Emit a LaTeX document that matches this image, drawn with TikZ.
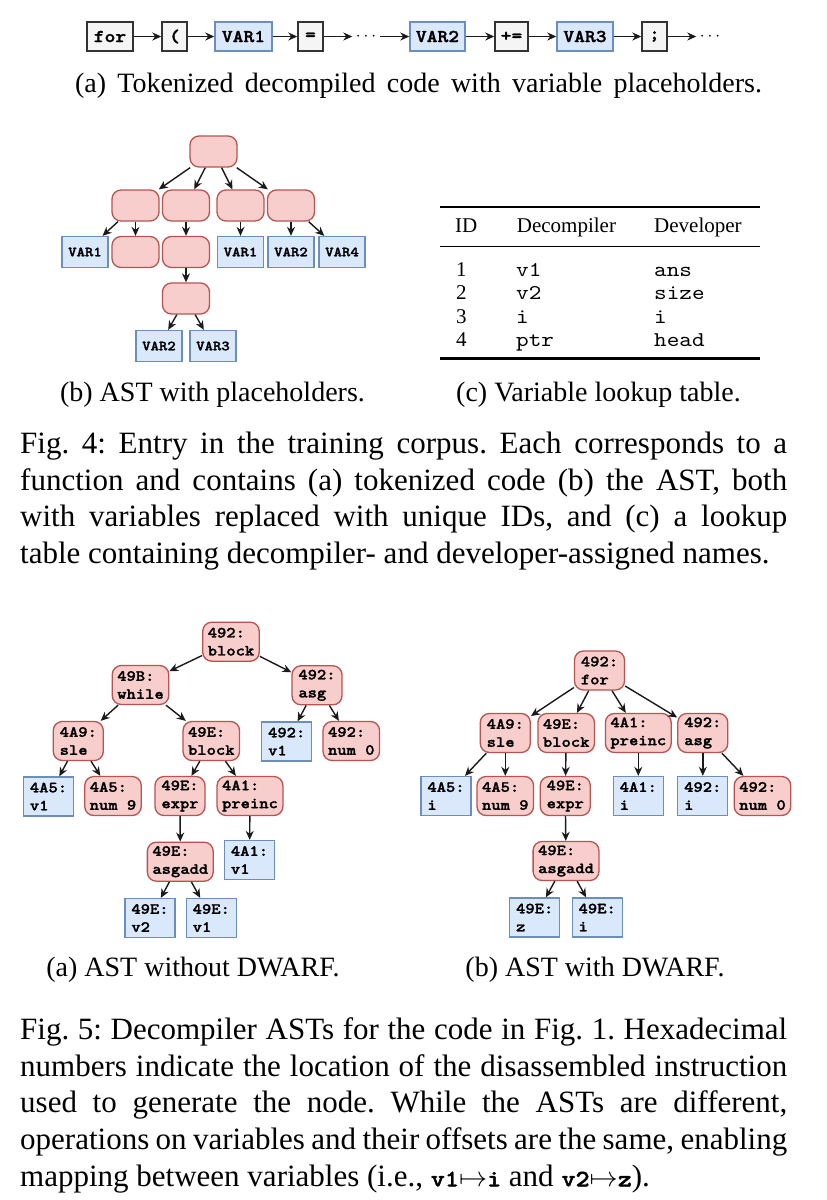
\documentclass[tikz,border=0pt]{standalone}
\usepackage{graphicx}
\usepackage{fontspec}
\setmainfont{Liberation Serif}
\setmonofont{lmmono10-regular}[Extension=.otf, BoldFont=lmmonolt10-bold, FakeStretch=1.143, BoldFeatures={FakeBold=1.6}]
\usetikzlibrary{arrows.meta}
\definecolor{redfill}{HTML}{F8CECC}
\definecolor{redline}{HTML}{B85450}
\definecolor{bluefill}{HTML}{DAE8FC}
\definecolor{blueline}{HTML}{6C8EBF}
\definecolor{grayfill}{HTML}{F5F5F5}
\definecolor{grayline}{HTML}{333333}
\definecolor{arrowc}{HTML}{1A1A1A}
\tikzset{
 tok/.style={draw=grayline, fill=grayfill, line width=1.4pt, minimum height=29pt, inner sep=0pt, font=\fontsize{18}{20}\selectfont\ttfamily\bfseries},
 tokv/.style={tok, draw=blueline, fill=bluefill},
 dotnode/.style={inner sep=0pt, minimum width=27pt, minimum height=20pt, font=\fontsize{18}{20}\selectfont},
 arr/.style={-{Stealth[length=9pt,width=8pt]}, line width=1.4pt, draw=arrowc},
 rn/.style={draw=redline, fill=redfill, rounded corners=9pt, line width=1.3pt, minimum width=47pt, minimum height=31pt, inner sep=0pt},
 bn/.style={draw=blueline, fill=bluefill, line width=1.3pt, minimum width=46pt, minimum height=31pt, inner sep=0pt, font=\fontsize{14}{16}\selectfont\ttfamily\bfseries},
 rt/.style={draw=redline, fill=redfill, rounded corners=9pt, line width=1.3pt, minimum width=50pt, minimum height=39pt, inner xsep=5pt, inner ysep=2pt, align=left, font=\fontsize{15.5}{18}\selectfont\ttfamily\bfseries},
 bt/.style={rt, draw=blueline, fill=bluefill, sharp corners},
 fcap/.style={inner sep=0pt, anchor=base west, font=\fontsize{31}{36.7}\selectfont\frenchspacing},
 subcap/.style={inner sep=0pt, anchor=base, font=\fontsize{28}{33}\selectfont\frenchspacing},
 tabtxt/.style={inner sep=0pt, anchor=base west, font=\fontsize{21}{24}\selectfont},
 tabtt/.style={inner sep=0pt, anchor=base west, font=\fontsize{21}{24}\selectfont\ttfamily},
}
\newcommand{\capcode}[1]{{\fontsize{23.5}{24}\selectfont\ttfamily\bfseries #1}}
\newcommand{\mapsarrow}{\scalebox{1.13}{$\mapsto$}}
\begin{document}
\begin{tikzpicture}[x=1pt,y=-1pt]
\useasboundingbox (0,0) rectangle (827,1200);
\fill[white] (0,0) rectangle (827,1200);

% ---------- token row ----------
\node[tok, minimum width=46pt] (t1) at (110,36.5) {for};
\node[tok, minimum width=25pt] (t2) at (174.5,36.5) {(};
\node[tokv, minimum width=57pt] (t3) at (243.5,36.5) {VAR1};
\node[tok, minimum width=25pt] (t4) at (310.5,36.5) {=};
\node[dotnode] (t5) at (366,36.5) {$\cdots$};
\node[tokv, minimum width=55pt] (t6) at (437.5,36.5) {VAR2};
\node[tok, minimum width=33pt] (t7) at (511.5,36.5) {+=};
\node[tokv, minimum width=56pt] (t8) at (585,36.5) {VAR3};
\node[tok, minimum width=25pt] (t9) at (654.5,36.5) {;};
\node[dotnode] (t10) at (710,36.5) {$\cdots$};
\draw[arr] (t1) -- (t2);
\draw[arr] (t2) -- (t3);
\draw[arr] (t3) -- (t4);
\draw[arr] (t4) -- (t5);
\draw[arr] (t5) -- (t6);
\draw[arr] (t6) -- (t7);
\draw[arr] (t7) -- (t8);
\draw[arr] (t8) -- (t9);
\draw[arr] (t9) -- (t10);
\node[subcap] (capa) at (418.5,92) {\makebox[687pt][s]{(a) Tokenized decompiled code with variable placeholders.}};

% ---------- Fig 4b AST ----------
\node[rn] (r) at (213.5,151.5) {};
\node[rn] (a) at (135.5,205.5) {};
\node[rn] (b) at (186,205.5) {};
\node[rn] (c) at (240.5,205.5) {};
\node[rn] (d) at (291,205.5) {};
\node[bn] (av) at (85,252) {VAR1};
\node[rn] (ar) at (135.5,252) {};
\node[rn] (br) at (186,252) {};
\node[bn] (cv) at (240.5,252) {VAR1};
\node[bn] (dv2) at (291,252) {VAR2};
\node[bn] (dv4) at (342,252) {VAR4};
\node[rn] (e) at (186,298.5) {};
\node[bn] (ev2) at (159,346) {VAR2};
\node[bn] (ev3) at (213,346) {VAR3};
\foreach \s/\t in {r/a,r/b,r/c,r/d,a/av,a/ar,b/br,br/e,c/cv,d/dv2,d/dv4,e/ev2,e/ev3}
  \draw[arr] (\s) -- (\t);
\node[subcap] (capb) at (212.5,401.7) {(b) AST with placeholders.};

% ---------- table ----------
\coordinate (tl) at (440,206.7); \coordinate (tr) at (760,206.7);
\coordinate (ml) at (440,246.7); \coordinate (mr) at (760,246.7);
\coordinate (bl) at (440,358.3); \coordinate (br2) at (760,358.3);
\draw[line width=2.4pt] (tl) -- (tr);
\draw[line width=1.3pt] (ml) -- (mr);
\draw[line width=2.4pt] (bl) -- (br2);
\node[tabtxt] (h1) at (455,232.3) {ID};
\node[tabtxt] (h2) at (516.7,232.3) {Decompiler};
\node[tabtxt] (h3) at (654,232.3) {Developer};
\node[tabtxt] (n1) at (456,276) {1};
\node[tabtt] (d1) at (516,276) {v1};
\node[tabtt] (v1) at (654,276) {ans};
\node[tabtxt] (n2) at (456,299.5) {2};
\node[tabtt] (d2) at (516,299.5) {v2};
\node[tabtt] (v2) at (654,299.5) {size};
\node[tabtxt] (n3) at (456,323) {3};
\node[tabtt] (d3) at (516,323) {i};
\node[tabtt] (v3) at (654,323) {i};
\node[tabtxt] (n4) at (456,346.5) {4};
\node[tabtt] (d4) at (516,346.5) {ptr};
\node[tabtt] (v4) at (654,346.5) {head};
\node[subcap] (capc) at (598.5,401.7) {(c) Variable lookup table.};

% ---------- Fig 4 caption ----------
\node[fcap] (f4a) at (20,453.3) {\makebox[767pt][s]{Fig. 4: Entry in the training corpus. Each corresponds to a}};
\node[fcap] (f4b) at (20,490) {\makebox[767pt][s]{function and contains (a) tokenized code (b) the AST, both}};
\node[fcap] (f4c) at (20,526.7) {\makebox[767pt][s]{with variables replaced with unique IDs, and (c) a lookup}};
\node[fcap] (f4d) at (20,563.4) {table containing decompiler- and developer-assigned names.};

% ---------- Fig 5a ----------
\node[rt] (p1) at (231,641.7) {492:\\block};
\node[rt] (p2) at (140.5,685) {49B:\\while};
\node[rt] (p3) at (317,685.3) {492:\\asg};
\node[rt] (p4) at (78.3,741) {4A9:\\sle};
\node[rt] (p5) at (211.3,741) {49E:\\block};
\node[bt] (p6) at (286.7,741.5) {492:\\v1};
\node[rt] (p7) at (351.3,741) {492:\\num 0};
\node[bt] (p8) at (48.5,796.5) {4A5:\\v1};
\node[rt] (p9) at (113,796) {4A5:\\num 9};
\node[rt] (p10) at (180,796) {49E:\\expr};
\node[rt] (p11) at (250,796) {4A1:\\preinc};
\node[rt] (p12) at (180.3,861.7) {49E:\\asgadd};
\node[bt] (p13) at (249.5,860) {4A1:\\v1};
\node[bt] (p14) at (150,918) {49E:\\v2};
\node[bt] (p15) at (211.3,918) {49E:\\v1};
\foreach \s/\t in {p1/p2,p1/p3,p2/p4,p2/p5,p3/p6,p3/p7,p4/p8,p4/p9,p5/p10,p5/p11,p10/p12,p11/p13,p12/p14,p12/p15}
  \draw[arr] (\s) -- (\t);
\node[subcap] (cap5a) at (193,976.7) {(a) AST without DWARF.};

% ---------- Fig 5b ----------
\node[rt] (q1) at (599.5,670.5) {492:\\for};
\node[rt] (q2) at (505.3,733) {4A9:\\sle};
\node[rt] (q3) at (566.2,733) {49E:\\block};
\node[rt] (q4) at (638.3,733) {4A1:\\preinc};
\node[rt] (q5) at (702.8,733) {492:\\asg};
\node[bt] (q6) at (446,796) {4A5:\\i};
\node[rt] (q7) at (505.3,796) {4A5:\\num 9};
\node[rt] (q8) at (565.3,796) {49E:\\expr};
\node[bt] (q9) at (638.3,796) {4A1:\\i};
\node[bt] (q10) at (702.8,796) {492:\\i};
\node[rt] (q11) at (762.5,796) {492:\\num 0};
\node[rt] (q12) at (566,861) {49E:\\asgadd};
\node[bt] (q13) at (534.7,917.5) {49E:\\z};
\node[bt] (q14) at (597.2,917.5) {49E:\\i};
\foreach \s/\t in {q1/q2,q1/q3,q1/q4,q1/q5,q2/q6,q2/q7,q3/q8,q4/q9,q5/q10,q5/q11,q8/q12,q12/q13,q12/q14}
  \draw[arr] (\s) -- (\t);
\node[subcap] (cap5b) at (595,976.7) {(b) AST with DWARF.};

% ---------- Fig 5 caption ----------
\node[fcap] (f5a) at (20,1039.5) {\makebox[767pt][s]{Fig. 5: Decompiler ASTs for the code in Fig. 1. Hexadecimal}};
\node[fcap] (f5b) at (20,1076.2) {\makebox[767pt][s]{numbers indicate the location of the disassembled instruction}};
\node[fcap] (f5c) at (20,1112.9) {\makebox[767pt][s]{used to generate the node. While the ASTs are different,}};
\node[fcap] (f5d) at (20,1149.6) {\makebox[767pt][s]{operations on variables and their offsets are the same, enabling}};
\node[fcap] (f5e) at (20,1186.3) {mapping between variables (i.e., \capcode{v1}\mapsarrow\capcode{i} and \capcode{v2}\mapsarrow\capcode{z}).};
\end{tikzpicture}
\end{document}
